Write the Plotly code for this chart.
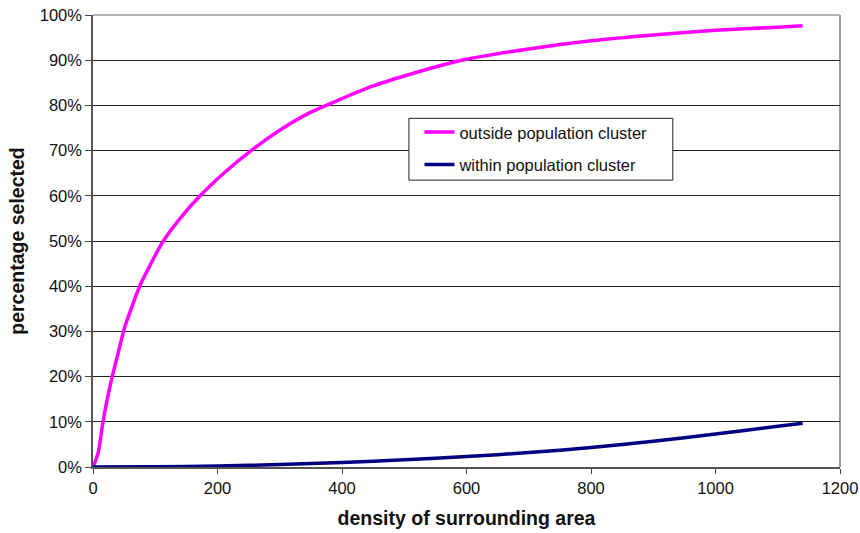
import plotly.graph_objects as go

# density of the surrounding area (x) and share of sites selected (y, fraction)
outside_x = [0, 8, 15, 20, 30, 40, 50, 60, 75, 93, 113, 140, 172, 210, 254, 300,
             350, 400, 450, 500, 550, 600, 700, 800, 900, 1000, 1100, 1140]
outside_y = [0.0, 0.03, 0.09, 0.13, 0.195, 0.25, 0.305, 0.345, 0.40, 0.45, 0.50,
             0.55, 0.60, 0.65, 0.70, 0.745, 0.785, 0.815, 0.843, 0.865, 0.885,
             0.902, 0.925, 0.943, 0.956, 0.966, 0.973, 0.976]

within_x = [0, 100, 200, 300, 400, 500, 600, 700, 800, 900, 1000, 1100, 1140]
within_y = [0.0, 0.0005, 0.002, 0.0055, 0.010, 0.016, 0.023, 0.032, 0.043,
            0.057, 0.073, 0.090, 0.097]

x_ticks = [0, 200, 400, 600, 800, 1000, 1200]
y_ticks = [0, 0.1, 0.2, 0.3, 0.4, 0.5, 0.6, 0.7, 0.8, 0.9, 1.0]

FONT = "Liberation Sans, Arial, sans-serif"

fig = go.Figure()
fig.add_trace(go.Scatter(
    x=outside_x, y=outside_y, mode="lines", name="outside population cluster",
    line=dict(color="#FF00FF", width=3.5, shape="spline", smoothing=0.8),
    legendgroup="a",
))
fig.add_trace(go.Scatter(
    x=within_x, y=within_y, mode="lines", name="within population cluster",
    line=dict(color="#000080", width=3.5, shape="spline", smoothing=0.8),
    legendgroup="b",
))

# plot frame: light grey on top and right
fig.add_shape(type="line", xref="paper", yref="paper", x0=0, x1=1, y0=1, y1=1,
              line=dict(color="#9a9a9a", width=1.5), layer="below")
fig.add_shape(type="line", xref="paper", yref="paper", x0=1, x1=1, y0=0, y1=1,
              line=dict(color="#9a9a9a", width=2), layer="below")

# legend box
fig.add_shape(type="rect", xref="paper", yref="paper",
              x0=0.4229, x1=0.7762, y0=0.6347, y1=0.7713,
              line=dict(color="#222222", width=1), fillcolor="white", layer="above")

fig.update_layout(
    width=860, height=533,
    margin=dict(l=93, r=20, t=15, b=66),
    paper_bgcolor="white", plot_bgcolor="white",
    font=dict(family=FONT, size=16, color="#111111"),
    showlegend=True,
    legend=dict(
        x=0.437, y=0.779, xanchor="left", yanchor="top",
        bgcolor="rgba(0,0,0,0)", borderwidth=0,
        font=dict(family=FONT, size=16.5, color="#111111"),
        tracegroupgap=8, itemwidth=30,
    ),
    xaxis=dict(
        range=[0, 1200], tickvals=x_ticks, ticks="outside", ticklen=5,
        tickcolor="#444444", showline=True, linecolor="#555555", linewidth=1.5,
        showgrid=False, zeroline=False, automargin=False,
        tickfont=dict(family=FONT, size=16.5, color="#111111"),
        title=dict(text="<b>density of surrounding area</b>", standoff=16,
                   font=dict(family=FONT, size=19.5, color="#111111")),
    ),
    yaxis=dict(
        range=[0, 1.0], tickvals=y_ticks, tickformat=".0%", ticks="outside",
        ticklen=6, tickcolor="#444444", showline=True, linecolor="#555555",
        linewidth=1.5, showgrid=True, gridcolor="#222222", gridwidth=1,
        zeroline=False, automargin=False,
        tickfont=dict(family=FONT, size=16.5, color="#111111"),
        title=dict(text="<b>percentage selected</b>", standoff=10,
                   font=dict(family=FONT, size=19.5, color="#111111")),
    ),
)

fig.write_html("out.html")
